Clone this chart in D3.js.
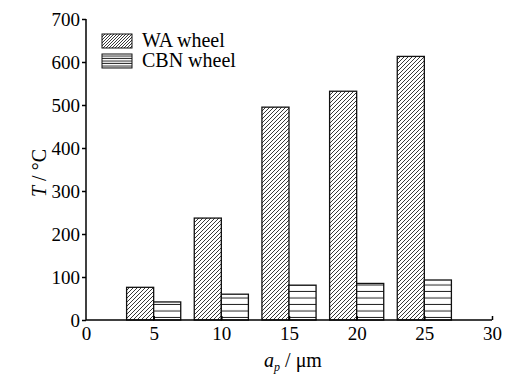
<!DOCTYPE html>
<html>
<head>
<meta charset="utf-8">
<script src="https://d3js.org/d3.v7.min.js"></script>
<style>
  body { margin: 0; background: #fff; }
  text { font-family: "Liberation Serif", "Times New Roman", serif; fill: #000; }
</style>
</head>
<body>
<div id="chart"></div>
<script>
// data
var depths = [5, 10, 15, 20, 25];
var waTemp = [76, 237, 495, 532, 613];
var cbnTemp = [42, 60, 81, 85, 93];
var seriesNames = ["WA wheel", "CBN wheel"];
var xTicks = [0, 5, 10, 15, 20, 25, 30];
var yTicks = [0, 100, 200, 300, 400, 500, 600, 700];

var svgWidth = 513, svgHeight = 378;
var margin = { top: 19, right: 21, bottom: 58, left: 86 };
var width = svgWidth - margin.left - margin.right;
var height = svgHeight - margin.top - margin.bottom;

var svg = d3.select("#chart").append("svg")
  .attr("width", svgWidth)
  .attr("height", svgHeight);

// hatch patterns
var defs = svg.append("defs");
function diagPattern(id, gap) {
  var p = defs.append("pattern").attr("id", id)
    .attr("patternUnits", "userSpaceOnUse")
    .attr("width", gap).attr("height", gap);
  p.append("rect").attr("width", gap).attr("height", gap).attr("fill", "#fff");
  p.append("path")
    .attr("d", `M0,${gap} L${gap},0 M${-gap / 2},${gap / 2} L${gap / 2},${-gap / 2} M${gap / 2},${gap * 1.5} L${gap * 1.5},${gap / 2}`)
    .attr("stroke", "#222").attr("stroke-width", 0.9);
}
function horizPattern(id, gap) {
  var p = defs.append("pattern").attr("id", id)
    .attr("patternUnits", "userSpaceOnUse")
    .attr("width", 10).attr("height", gap);
  p.append("rect").attr("width", 10).attr("height", gap).attr("fill", "#fff");
  p.append("line").attr("x1", 0).attr("x2", 10)
    .attr("y1", gap - 0.5).attr("y2", gap - 0.5)
    .attr("stroke", "#222").attr("stroke-width", 1);
}
diagPattern("diag", 4);
horizPattern("horiz", 6.5);
diagPattern("diagLeg", 3);
horizPattern("horizLeg", 2.5);

var chartGroup = svg.append("g")
  .attr("transform", `translate(${margin.left}, ${margin.top})`);

var xScale = d3.scaleLinear().domain([0, 30]).range([0, width]);
var yScale = d3.scaleLinear().domain([0, 700]).range([height, 0]);

// bars
var barW = xScale(2) - xScale(0);
chartGroup.selectAll(".wa").data(depths).enter().append("rect")
  .attr("x", d => xScale(d) - barW)
  .attr("y", (d, i) => yScale(waTemp[i]))
  .attr("width", barW)
  .attr("height", (d, i) => height - yScale(waTemp[i]))
  .attr("fill", "url(#diag)")
  .attr("stroke", "#111").attr("stroke-width", 1.3);

chartGroup.selectAll(".cbn").data(depths).enter().append("rect")
  .attr("x", d => xScale(d))
  .attr("y", (d, i) => yScale(cbnTemp[i]))
  .attr("width", barW)
  .attr("height", (d, i) => height - yScale(cbnTemp[i]))
  .attr("fill", "url(#horiz)")
  .attr("stroke", "#111").attr("stroke-width", 1.3);

// axes
var bottomAxis = d3.axisBottom(xScale).tickValues(xTicks).tickSize(-4).tickPadding(10);
var leftAxis = d3.axisLeft(yScale).tickValues(yTicks).tickSize(4).tickPadding(2);

var xg = chartGroup.append("g")
  .attr("transform", `translate(0, ${height})`)
  .call(bottomAxis);
var yg = chartGroup.append("g").call(leftAxis);

[xg, yg].forEach(function(g) {
  g.select(".domain").attr("stroke", "#000").attr("stroke-width", 1.5);
  g.selectAll(".tick line").attr("stroke", "#000").attr("stroke-width", 1.5);
  g.selectAll(".tick text").attr("font-size", "19px")
    .attr("font-family", "Liberation Serif").attr("fill", "#000");
});
xg.select(".domain").attr("d", `M0,0H${width}`);
xg.selectAll(".tick").filter(d => d === 0).select("line").remove();
yg.select(".domain").attr("d", `M0,0V${height}`);
xg.selectAll(".tick text").attr("dy", "0.71em").attr("y", 7);

// legend
var legend = chartGroup.append("g").attr("transform", "translate(16, 15)");
var legFills = ["url(#diagLeg)", "url(#horizLeg)"];
seriesNames.forEach(function(name, i) {
  var row = legend.append("g").attr("transform", `translate(0, ${i * 20})`);
  row.append("rect").attr("width", 30).attr("height", 14)
    .attr("fill", legFills[i]).attr("stroke", "#111").attr("stroke-width", 1);
  row.append("text").attr("x", 40).attr("y", 13)
    .attr("font-size", "20px").text(name);
});

// axis labels
var yLab = svg.append("text")
  .attr("transform", `translate(46, ${margin.top + 154}) rotate(-90)`)
  .attr("text-anchor", "middle")
  .attr("font-size", "20px");
yLab.append("tspan").attr("font-style", "italic").text("T");
yLab.append("tspan").text(" / °C");

var xLab = svg.append("text")
  .attr("x", margin.left + xScale(15) + 4)
  .attr("y", 367)
  .attr("text-anchor", "middle")
  .attr("font-size", "20px");
xLab.append("tspan").attr("font-style", "italic").text("a");
xLab.append("tspan").attr("font-style", "italic").attr("font-size", "12px").attr("dy", 4).text("p");
xLab.append("tspan").attr("dy", -4).text(" / μm");
</script>
</body>
</html>
